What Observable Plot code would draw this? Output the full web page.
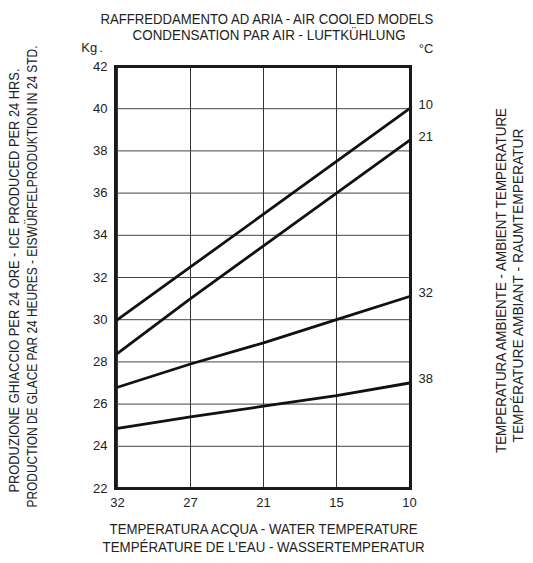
<!DOCTYPE html>
<html>
<head>
<meta charset="utf-8">
<script src="https://cdn.jsdelivr.net/npm/d3@7"></script>
<script src="https://cdn.jsdelivr.net/npm/@observablehq/plot@0.6"></script>
<style>
  html, body { margin: 0; padding: 0; background: #fff; }
  #wrap { position: relative; width: 533px; height: 563px; overflow: hidden; }
  .t { position: absolute; white-space: nowrap; color: #222;
       font-family: "Liberation Sans", Arial, sans-serif;
       font-size: 15px; line-height: 15px; }
  .u { position: absolute; white-space: nowrap; color: #222;
       font-family: "Liberation Sans", Arial, sans-serif; font-size: 13px; line-height: 13px; }
</style>
</head>
<body>
<div id="wrap"></div>
<script>
// Water temperature ticks (x axis, evenly spaced categories)
const waterTemps = ["32", "27", "21", "15", "10"];
// Ambient temperature series labels
const ambientLabels = ["10", "21", "32", "38"];
// Ice production (kg / 24h) for each ambient temperature, per water temperature
const amb10 = [30.0, 32.5, 35.0, 37.5, 40.0];
const amb21 = [28.4, 31.0, 33.5, 36.0, 38.5];
const amb32 = [26.8, 27.9, 28.9, 30.0, 31.1];
const amb38 = [24.85, 25.4, 25.9, 26.4, 27.0];
// Y axis ticks
const yTicks = [22, 24, 26, 28, 30, 32, 34, 36, 38, 40, 42];

const seriesValues = [amb10, amb21, amb32, amb38];
const rows = [];
ambientLabels.forEach((a, i) => {
  waterTemps.forEach((w, j) => rows.push({ambient: a, water: w, kg: seriesValues[i][j]}));
});
const ends = rows.filter(d => d.water === waterTemps[waterTemps.length - 1]);

const chart = Plot.plot({
  width: 533,
  height: 563,
  marginLeft: 115,
  marginRight: 123,
  marginTop: 66,
  marginBottom: 75,
  style: {fontFamily: "'Liberation Sans', Arial, sans-serif", fontSize: "13px", color: "#222", background: "#fff"},
  x: {type: "point", domain: waterTemps, padding: 0, label: null},
  y: {domain: [22, 42], ticks: yTicks, label: null},
  marks: [
    Plot.gridX(waterTemps, {stroke: "#333", strokeOpacity: 1, strokeWidth: 1}),
    Plot.gridY(yTicks, {stroke: "#444", strokeOpacity: 1, strokeWidth: 1}),
    Plot.axisY({ticks: yTicks, tickSize: 0, tickPadding: 8, label: null, fontSize: 13}),
    Plot.axisX({tickSize: 0, tickPadding: 9, label: null, fontSize: 13}),
    Plot.line(rows, {x: "water", y: "kg", z: "ambient", stroke: "#111", strokeWidth: 2.8}),
    Plot.text(ends, {x: "water", y: "kg", text: "ambient", dx: 9, dy: -4, textAnchor: "start", fontSize: 13, fill: "#222"}),
    Plot.frame({stroke: "#1a1a1a", strokeWidth: 3})
  ]
});
const wrap = document.getElementById("wrap");
chart.style.position = "absolute";
chart.style.left = "0px";
chart.style.top = "0px";
wrap.appendChild(chart);

// Condensed label: text fitted to a target length, centred on (cx, cy), optionally rotated
function label(text, cx, cy, length, rotate) {
  const d = document.createElement("div");
  d.className = "t";
  d.textContent = text;
  d.style.left = "0px";
  d.style.top = "0px";
  wrap.appendChild(d);
  const w = d.getBoundingClientRect().width;
  const h = d.getBoundingClientRect().height;
  const k = length / w;
  d.style.left = (cx - w / 2) + "px";
  d.style.top = (cy - h / 2) + "px";
  d.style.transformOrigin = "50% 50%";
  d.style.transform = (rotate ? "rotate(-90deg) " : "") + "scaleX(" + k + ")";
}
label("RAFFREDDAMENTO AD ARIA - AIR COOLED MODELS", 266.5, 18, 333, false);
label("CONDENSATION PAR AIR - LUFTKÜHLUNG", 269.5, 34, 273, false);
label("TEMPERATURA ACQUA - WATER TEMPERATURE", 264, 528, 308, false);
label("TEMPÉRATURE DE L'EAU - WASSERTEMPERATUR", 264, 546, 322, false);
label("PRODUZIONE GHIACCIO PER 24 ORE - ICE PRODUCED PER 24 HRS.", 14, 280, 424, true);
label("PRODUCTION DE GLACE PAR 24 HEURES - EISWÜRFELPRODUKTION IN 24 STD.", 32, 276, 462, true);
label("TEMPERATURA AMBIENTE - AMBIENT TEMPERATURE", 500, 280.5, 345, true);
label("TEMPÉRATURE AMBIANT - RAUMTEMPERATUR", 518, 285, 314, true);

function add(html, cx, cy) {
  const d = document.createElement("div");
  d.className = "u";
  d.innerHTML = html;
  wrap.appendChild(d);
  const r = d.getBoundingClientRect();
  d.style.left = (cx - r.width / 2) + "px";
  d.style.top = (cy - r.height / 2) + "px";
}
add("K<span style='letter-spacing:2px'>g</span>.", 92, 47);
add("°C", 426, 48);
</script>
</body>
</html>
